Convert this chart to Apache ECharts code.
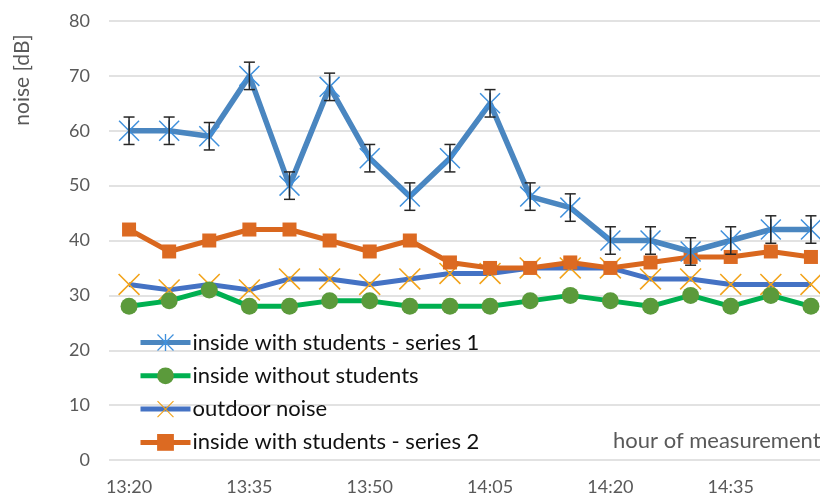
<!DOCTYPE html>
<html>
<head>
<meta charset="utf-8">
<script src="https://cdn.jsdelivr.net/npm/echarts@6/dist/echarts.min.js"></script>
<style>
  html, body { margin: 0; padding: 0; background: #fff; }
  #main { width: 820px; height: 497px; }
</style>
</head>
<body>
<div id="main"></div>
<script>
// time of measurement, every 5 minutes
var hours = ['13:20', '13:25', '13:30', '13:35', '13:40', '13:45', '13:50', '13:55', '14:00',
  '14:05', '14:10', '14:15', '14:20', '14:25', '14:30', '14:35', '14:40', '14:45'];
var series1 = [60, 60, 59, 70, 50, 68, 55, 48, 55, 65, 48, 46, 40, 40, 38, 40, 42, 42];
var series1Err = [2.5, 2.5, 2.5, 2.5, 2.5, 2.5, 2.5, 2.5, 2.5, 2.5, 2.5, 2.5, 2.5, 2.5, 2.5, 2.5, 2.5, 2.5];
var withoutStudents = [28, 29, 31, 28, 28, 29, 29, 28, 28, 28, 29, 30, 29, 28, 30, 28, 30, 28];
var outdoor = [32, 31, 32, 31, 33, 33, 32, 33, 34, 34, 35, 35, 35, 33, 33, 32, 32, 32];
var series2 = [42, 38, 40, 42, 42, 40, 38, 40, 36, 35, 35, 36, 35, 36, 37, 37, 38, 37];
var names = ['inside with students - series 1', 'inside without students', 'outdoor noise', 'inside with students - series 2'];

var crossPath = 'path://M0,5L5,0L100,95L95,100Z M95,0L100,5L5,100L0,95Z';
var starPath = 'path://M0,5L5,0L100,95L95,100Z M95,0L100,5L5,100L0,95Z M46,0L54,0L54,100L46,100Z';
var font = 'Lato';

var errData = [];
for (var i = 0; i < series1.length; i++) {
  errData.push([i, series1[i] - series1Err[i], series1[i] + series1Err[i]]);
}

var chart = echarts.init(document.getElementById('main'), null, { renderer: 'canvas' });
var option = {
  animation: false,
  textStyle: { fontFamily: font },
  // plot runs past the right edge of the picture
  grid: { left: 109, width: 722, top: 21, bottom: 37, outerBoundsMode: 'none', containLabel: false },
  legend: {
    data: names,
    orient: 'vertical',
    left: 133,
    top: 326.5,
    itemWidth: 50,
    itemHeight: 21,
    itemGap: 11.3,
    lineStyle: { width: 5 },
    textStyle: { fontFamily: font, fontSize: 22, color: '#111', lineHeight: 18, padding: [0, 0, 0, -3] }
  },
  xAxis: {
    type: 'category',
    data: hours,
    axisLine: { show: false },
    axisTick: { show: false },
    axisLabel: { interval: 2, color: '#595959', fontSize: 18, margin: 18 }
  },
  yAxis: {
    type: 'value',
    min: 0,
    max: 80,
    interval: 10,
    axisLabel: { color: '#595959', fontSize: 18, margin: 19 },
    splitLine: { lineStyle: { color: '#d9d9d9', width: 1.5 } }
  },
  graphic: [
    {
      type: 'text',
      x: 22, y: 80, rotation: Math.PI / 2,
      style: { text: 'noise [dB]', fill: '#595959', font: '21px ' + font, align: 'center', verticalAlign: 'middle' }
    },
    {
      type: 'text',
      x: 613, y: 441,
      style: { text: 'hour of measurement', fill: '#595959', font: '22px ' + font, align: 'left', verticalAlign: 'middle' }
    }
  ],
  series: [
    {
      name: names[2],
      type: 'line',
      data: outdoor,
      z: 2,
      symbol: crossPath,
      symbolSize: 22,
      lineStyle: { color: '#4472c4', width: 5 },
      itemStyle: { color: '#f2a31b' }
    },
    {
      name: names[1],
      type: 'line',
      data: withoutStudents,
      z: 3,
      symbol: 'circle',
      symbolSize: 17,
      lineStyle: { color: '#00b050', width: 5 },
      itemStyle: { color: '#5b9a3b' }
    },
    {
      name: names[3],
      type: 'line',
      data: series2,
      z: 4,
      symbol: 'rect',
      symbolSize: 14,
      lineStyle: { color: '#d9671e', width: 5 },
      itemStyle: { color: '#dc6a22' }
    },
    {
      name: names[0],
      type: 'line',
      data: series1,
      z: 5,
      symbol: starPath,
      symbolSize: 21,
      lineStyle: { color: '#4a86c0', width: 5.5 },
      itemStyle: { color: '#3f90dc' }
    },
    {
      // error bars of series 1
      type: 'custom',
      z: 6,
      data: errData,
      renderItem: function (params, api) {
        var lo = api.coord([api.value(0), api.value(1)]);
        var hi = api.coord([api.value(0), api.value(2)]);
        var c = 5.5;
        var st = { stroke: '#262626', lineWidth: 1.5 };
        return {
          type: 'group',
          children: [
            { type: 'line', shape: { x1: lo[0], y1: lo[1], x2: hi[0], y2: hi[1] }, style: st },
            { type: 'line', shape: { x1: lo[0] - c, y1: lo[1], x2: lo[0] + c, y2: lo[1] }, style: st },
            { type: 'line', shape: { x1: hi[0] - c, y1: hi[1], x2: hi[0] + c, y2: hi[1] }, style: st }
          ]
        };
      }
    }
  ]
};
chart.setOption(option);
</script>
</body>
</html>
